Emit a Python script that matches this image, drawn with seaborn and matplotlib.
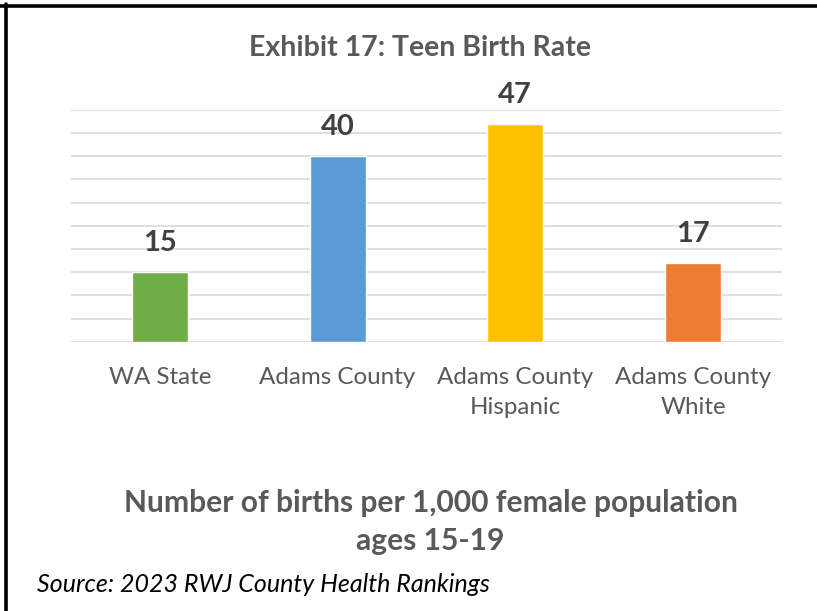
import matplotlib
matplotlib.use("Agg")
import matplotlib.pyplot as plt
import seaborn as sns
import pandas as pd
from matplotlib.lines import Line2D

# datos del gráfico
categorias = ["WA State", "Adams County", "Adams County\nHispanic", "Adams County\nWhite"]
tasas = [15, 40, 47, 17]
colores = ["#70AD47", "#5B9BD5", "#FFC000", "#ED7D31"]

df = pd.DataFrame({"Categoria": categorias, "Tasa": tasas})

sns.set_theme(style="white")
plt.rcParams["font.family"] = ["Lato", "DejaVu Sans"]

fig = plt.figure(figsize=(8.17, 6.11), dpi=100)
ax = fig.add_axes([0.0869, 0.4408, 0.870, 0.3792])

sns.barplot(data=df, x="Categoria", y="Tasa", hue="Categoria", palette=colores,
            width=0.315, legend=False, ax=ax, saturation=1)

ax.set_ylim(0, 50)
ax.set_xlim(-0.5, 3.5)
ax.set_yticks(range(0, 51, 5))
ax.yaxis.grid(True, color="#d9d9d9", linewidth=1.2)
ax.set_axisbelow(True)
for s in ax.spines.values():
    s.set_visible(False)
ax.tick_params(axis="y", left=False, labelleft=False)
ax.tick_params(axis="x", bottom=False, pad=12, labelsize=17.4, labelcolor="#595959")
for lbl in ax.get_xticklabels():
    lbl.set_linespacing(1.55)
ax.set_xlabel("")
ax.set_ylabel("")

# etiquetas de valor
for i, v in enumerate(tasas):
    ax.annotate(str(v), (i, v), xytext=(0, 21), textcoords="offset points",
                ha="center", va="center", fontsize=21, fontweight="bold", color="#404040")

fig.text(0.514, 0.921, "Exhibit 17: Teen Birth Rate", ha="center", va="center",
         fontsize=20.5, fontweight="bold", color="#595959")
fig.text(0.527, 0.146, "Number of births per 1,000 female population\nages 15-19",
         ha="center", va="center", fontsize=21.6, fontweight="bold", color="#595959",
         linespacing=1.42)
fig.text(0.045, 0.044, "Source: 2023 RWJ County Health Rankings", ha="left", va="center",
         fontsize=18, fontstyle="italic", color="black")

# marco superior e izquierdo
fig.add_artist(Line2D([0, 1], [1 - 5.5 / 611, 1 - 5.5 / 611], color="black", linewidth=2.6))
fig.add_artist(Line2D([5.5 / 817, 5.5 / 817], [0, 1 - 4 / 611], color="black", linewidth=2.6))

fig.savefig("out.png", dpi=100)
